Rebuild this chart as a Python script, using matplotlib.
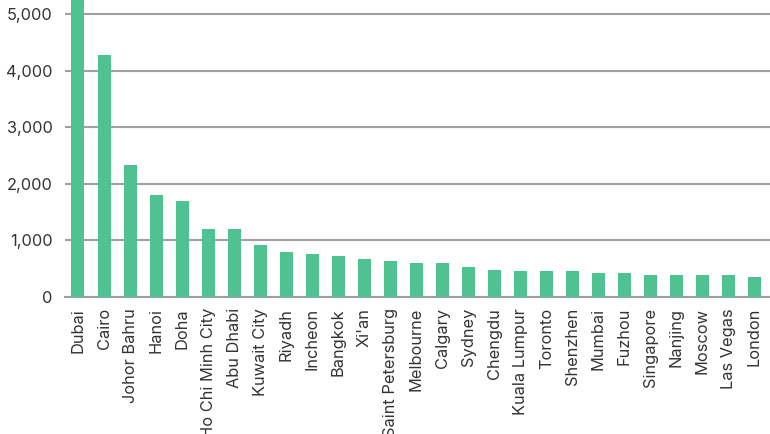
import matplotlib
matplotlib.use("Agg")
import matplotlib.pyplot as plt
from matplotlib.ticker import FuncFormatter

cities = ["Dubai", "Cairo", "Johor Bahru", "Hanoi", "Doha", "Ho Chi Minh City",
          "Abu Dhabi", "Kuwait City", "Riyadh", "Incheon", "Bangkok", "Xi'an",
          "Saint Petersburg", "Melbourne", "Calgary", "Sydney", "Chengdu",
          "Kuala Lumpur", "Toronto", "Shenzhen", "Mumbai", "Fuzhou", "Singapore",
          "Nanjing", "Moscow", "Las Vegas", "London"]
values = [5260, 4270, 2340, 1810, 1690, 1200, 1200, 920, 795, 765, 725, 673,
          638, 603, 603, 534, 482, 452, 452, 452, 417, 417, 383, 383, 383, 383, 353]
yticks = [0, 1000, 2000, 3000, 4000, 5000]

plt.rcParams['font.family'] = ['Inter', 'DejaVu Sans']

fig = plt.figure(figsize=(7.7, 4.34), dpi=100)
ax = fig.add_axes([0.0844, 0.3157, 0.9156, 0.6843])

x = list(range(len(cities)))
ax.bar(x, values, width=0.5, color='#50c291', zorder=3)

ax.set_ylim(0, 5250)
ax.set_xlim(-0.5, 26.6)
ax.set_yticks(yticks)
ax.yaxis.set_major_formatter(FuncFormatter(lambda v, p: f"{int(v):,}"))
ax.set_xticks(x)
ax.set_xticklabels(cities, rotation=90, va='top', ha='center')

ax.grid(axis='y', color='#a0a0a0', linewidth=1.5, zorder=0)
for s in ['top', 'right', 'left']:
    ax.spines[s].set_visible(False)
ax.spines['bottom'].set_color('#a0a0a0')
ax.spines['bottom'].set_linewidth(1.5)
ax.tick_params(axis='both', length=0, labelsize=11.8, labelcolor='#333333')
ax.tick_params(axis='y', pad=9)
ax.tick_params(axis='x', pad=8)

fig.savefig("out.png", dpi=100)
